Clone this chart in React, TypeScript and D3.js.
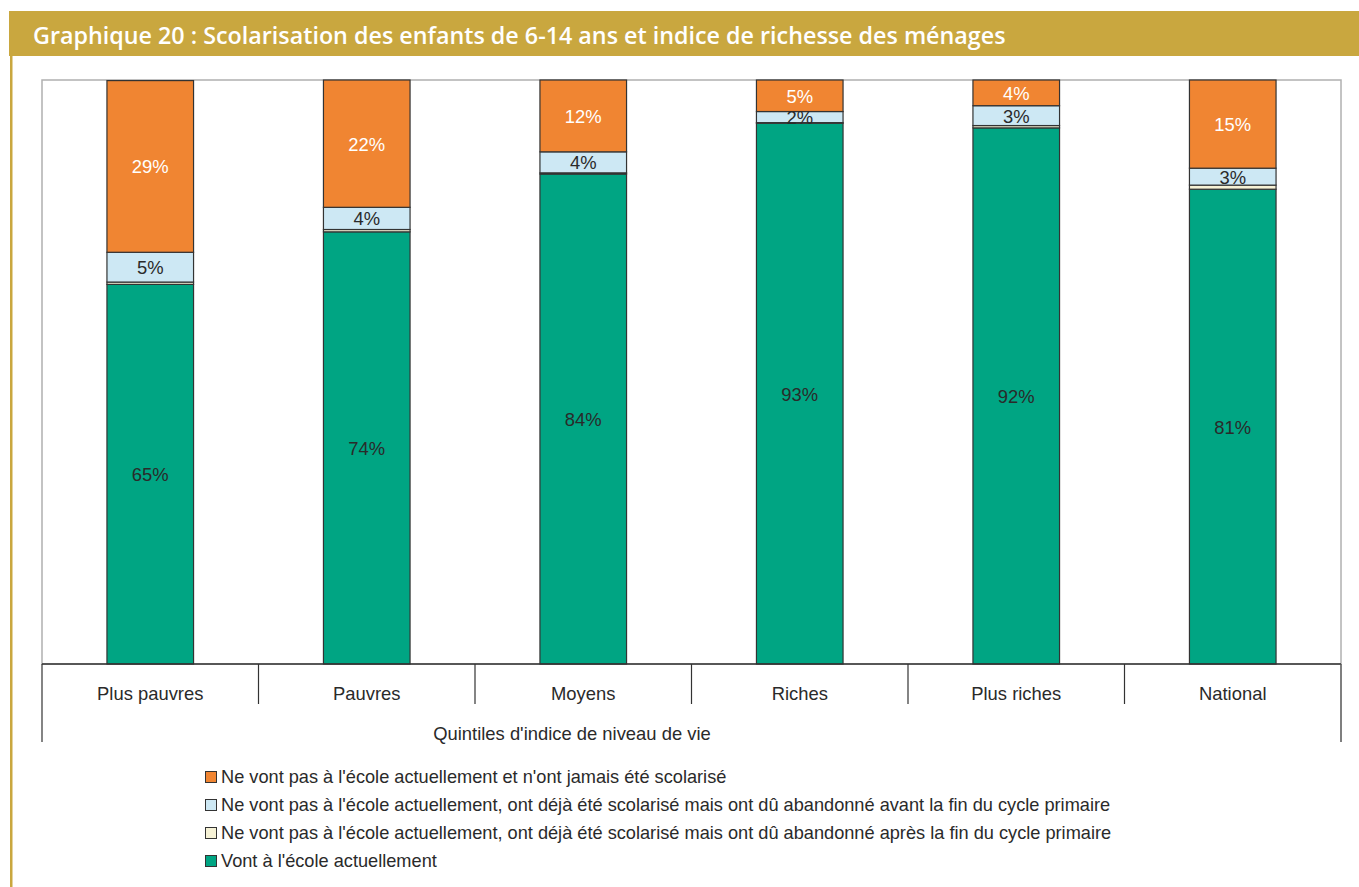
import React from "react";
import * as d3 from "d3";

const categories = ["Plus pauvres", "Pauvres", "Moyens", "Riches", "Plus riches", "National"];
const seriesKeys = ["vont", "apres", "avant", "jamais"];
const vontValues = [65.0, 74.0, 83.9, 92.6, 91.8, 81.3];
const apresValues = [0.4, 0.4, 0.2, 0.1, 0.4, 0.7];
const avantValues = [5.1, 3.8, 3.6, 1.9, 3.4, 2.9];
const jamaisValues = [29.4, 21.8, 12.3, 5.4, 4.4, 15.1];

const seriesColors: Record<string, string> = {
  jamais: "#F08532",
  avant: "#CDE8F4",
  apres: "#F6F2D6",
  vont: "#00A583",
};
const labelColors: Record<string, string | null> = {
  jamais: "#ffffff",
  avant: "#2a2a2a",
  apres: null,
  vont: "#2a2a2a",
};
const legendItems = [
  { key: "jamais", label: "Ne vont pas à l'école actuellement et n'ont jamais été scolarisé" },
  { key: "avant", label: "Ne vont pas à l'école actuellement, ont déjà été scolarisé mais ont dû abandonné avant la fin du cycle primaire" },
  { key: "apres", label: "Ne vont pas à l'école actuellement, ont déjà été scolarisé mais ont dû abandonné après la fin du cycle primaire" },
  { key: "vont", label: "Vont à l'école actuellement" },
];
const titleText = "Graphique 20 : Scolarisation des enfants de 6-14 ans et indice de richesse des ménages";
const axisTitle = "Quintiles d'indice de niveau de vie";

export default function App() {
  const W = 1359, H = 887;
  const plot = { left: 42, right: 1341, top: 80, bottom: 664 };
  const rows = categories.map((c, i) => ({
    cat: c,
    vont: vontValues[i],
    apres: apresValues[i],
    avant: avantValues[i],
    jamais: jamaisValues[i],
  }));
  const stack = d3.stack<any>().keys(seriesKeys)(rows);
  const x = d3.scaleBand().domain(categories).range([plot.left, plot.right]).paddingInner(0.6).paddingOuter(0.3);
  const xOuter = d3.scaleBand().domain(categories).range([plot.left, plot.right]);
  const y = d3.scaleLinear().domain([0, 100]).range([plot.bottom, plot.top]);
  const font = "'Liberation Sans', Arial, sans-serif";
  const fs = 18.4;

  return (
    <svg width={W} height={H} style={{ position: "absolute", left: 0, top: 0, background: "#fff" }}>
      <rect x={9} y={11} width={W - 9} height={45} fill="#C9A73F" />
      <rect x={10} y={56} width={2.5} height={H - 56} fill="#C9A73F" />
      <text x={33} y={44} fill="#fff" fontFamily="'Open Sans', sans-serif" fontWeight={600} fontSize={23.3}>
        {titleText}
      </text>
      <rect x={plot.left} y={plot.top} width={plot.right - plot.left} height={plot.bottom - plot.top} fill="#fff" stroke="#b0b0b0" strokeWidth={1.5} />
      {stack.map((s) =>
        s.map((d, i) => {
          const x0 = x(categories[i])!;
          const y0 = y(d[1]);
          const h = y(d[0]) - y(d[1]);
          return (
            <rect key={s.key + i} x={x0} y={y0} width={x.bandwidth()} height={h}
              fill={seriesColors[s.key]} stroke="#333" strokeWidth={1.2} />
          );
        })
      )}
      {stack.map((s) => {
        const col = labelColors[s.key];
        if (!col) return null;
        return s.map((d, i) => {
          const v = (d.data as any)[s.key] as number;
          return (
            <text key={"l" + s.key + i} x={x(categories[i])! + x.bandwidth() / 2} y={y((d[0] + d[1]) / 2) + 7}
              textAnchor="middle" fill={col} fontFamily={font} fontSize={fs}>
              {Math.round(v) + "%"}
            </text>
          );
        });
      })}
      <line x1={plot.left} x2={plot.right} y1={plot.bottom} y2={plot.bottom} stroke="#333" strokeWidth={1.5} />
      {categories.map((c, i) => {
        const xl = xOuter(c)!;
        const outer = i === 0;
        return (
          <line key={"t" + i} x1={xl} x2={xl} y1={plot.bottom} y2={outer ? 742 : 704} stroke="#333" strokeWidth={1.2} />
        );
      })}
      <line x1={plot.right} x2={plot.right} y1={plot.bottom} y2={742} stroke="#555" strokeWidth={1.5} />
      {categories.map((c, i) => (
        <text key={"c" + i} x={xOuter(c)! + xOuter.bandwidth() / 2} y={700} textAnchor="middle" fill="#2a2a2a" fontFamily={font} fontSize={fs}>
          {c}
        </text>
      ))}
      <text x={572} y={740} textAnchor="middle" fill="#2a2a2a" fontFamily={font} fontSize={fs}>
        {axisTitle}
      </text>
      {legendItems.map((it, i) => (
        <g key={"lg" + i} transform={`translate(205, ${771 + i * 28})`}>
          <rect x={0.5} y={0.5} width={11} height={11} fill={seriesColors[it.key]} stroke="#333" strokeWidth={1} />
          <text x={16} y={12} fill="#2a2a2a" fontFamily={font} fontSize={18.2}>
            {it.label}
          </text>
        </g>
      ))}
    </svg>
  );
}
